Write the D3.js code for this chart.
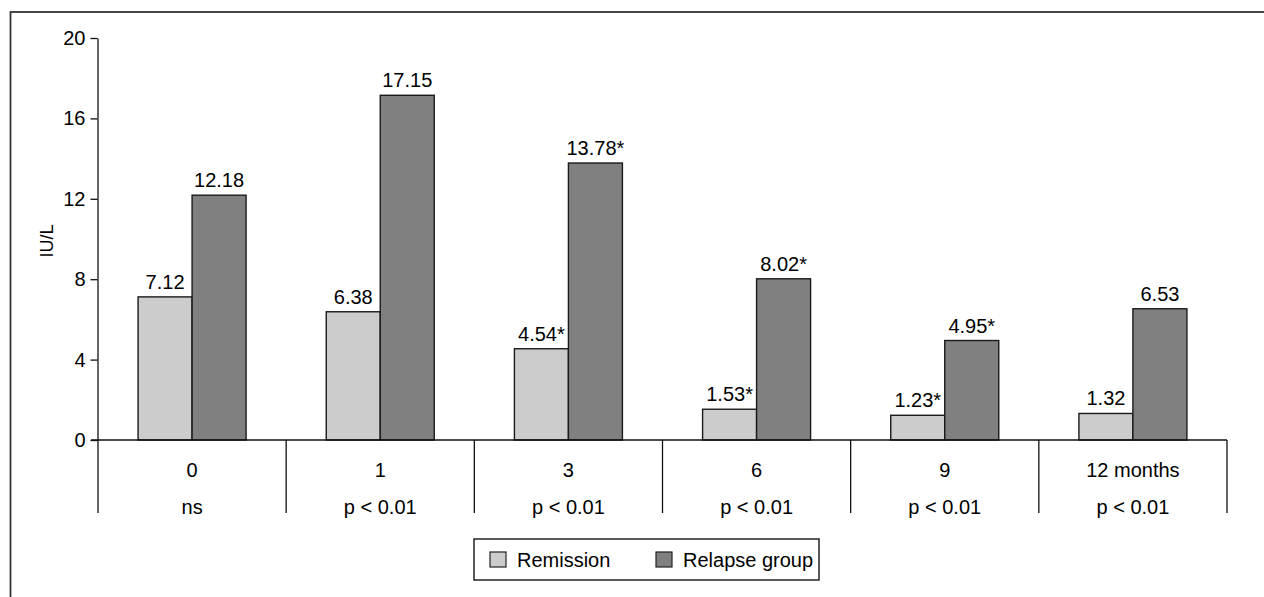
<!DOCTYPE html>
<html>
<head>
<meta charset="utf-8">
<script src="https://cdn.jsdelivr.net/npm/d3@7"></script>
<style>
  body { margin: 0; background: #fff; }
  svg text { font-family: "Liberation Sans", Arial, sans-serif; fill: #000; }
</style>
</head>
<body>
<div id="wrapper"></div>
<script>
// data
const months = ["0", "1", "3", "6", "9", "12 months"]
const pValues = ["ns", "p < 0.01", "p < 0.01", "p < 0.01", "p < 0.01", "p < 0.01"]
const remission = [7.12, 6.38, 4.54, 1.53, 1.23, 1.32]
const relapse = [12.18, 17.15, 13.78, 8.02, 4.95, 6.53]
const remissionStar = [false, false, true, true, true, false]
const relapseStar = [false, false, true, true, true, false]
const series = ["Remission", "Relapse group"]
const yTicks = [0, 4, 8, 12, 16, 20]

function drawBars() {
  const colors = { "Remission": "#cccccc", "Relapse group": "#808080" }
  const fontFamily = '"Liberation Sans", Arial, sans-serif'

  const data = months.map((m, i) => ({
    month: m,
    p: pValues[i],
    values: [
      { key: "Remission", value: remission[i], star: remissionStar[i] },
      { key: "Relapse group", value: relapse[i], star: relapseStar[i] },
    ]
  }))

  const dimensions = {
    width: 1264,
    height: 597,
    left: 98,
    right: 1227,
    top: 38,
    zero: 440,
    bottom: 513,
  }

  const svg = d3.select("#wrapper")
    .append("svg")
    .attr("width", dimensions.width)
    .attr("height", dimensions.height)

  // outer frame (runs off right and bottom edge)
  svg.append("rect")
    .attr("x", 10.5)
    .attr("y", 12)
    .attr("width", 1300)
    .attr("height", 700)
    .attr("fill", "none")
    .attr("stroke", "#333")
    .attr("stroke-width", 1.8)

  // scales
  const xScale = d3.scaleBand()
    .domain(months)
    .range([dimensions.left, dimensions.right])
  const innerScale = d3.scaleBand()
    .domain(series)
    .range([0, 108])
  const yScale = d3.scaleLinear()
    .domain([0, 20])
    .range([dimensions.zero, dimensions.top])

  // y axis
  const yAxis = d3.axisLeft(yScale)
    .tickValues(yTicks)
    .tickSize(7)
    .tickSizeOuter(0)
    .tickPadding(5)
  const yAxisG = svg.append("g")
    .attr("transform", `translate(${dimensions.left - 0.5},0)`)
    .call(yAxis)
  yAxisG.select(".domain").attr("stroke", "#111").attr("stroke-width", 1.3)
  yAxisG.selectAll(".tick line").attr("stroke", "#111").attr("stroke-width", 1.3)
  yAxisG.selectAll(".tick text")
    .attr("font-size", 20)
    .style("font-family", fontFamily)
    .attr("fill", "#000")

  svg.append("text")
    .attr("transform", `translate(53,241) rotate(-90)`)
    .attr("text-anchor", "middle")
    .attr("font-size", 18)
    .text("IU/L")

  // bars
  const groups = svg.selectAll("g.group")
    .data(data)
    .join("g")
    .attr("class", "group")
    .attr("transform", d => `translate(${xScale(d.month) + (xScale.bandwidth() - 108) / 2},0)`)

  groups.selectAll("rect")
    .data(d => d.values)
    .join("rect")
    .attr("x", d => innerScale(d.key))
    .attr("y", d => yScale(d.value))
    .attr("width", innerScale.bandwidth())
    .attr("height", d => yScale(0) - yScale(d.value))
    .attr("fill", d => colors[d.key])
    .attr("stroke", "#1a1a1a")
    .attr("stroke-width", 1.4)

  groups.selectAll("text.value")
    .data(d => d.values)
    .join("text")
    .attr("class", "value")
    .attr("x", d => innerScale(d.key) + innerScale.bandwidth() / 2)
    .attr("y", d => yScale(d.value) - 8)
    .attr("text-anchor", "middle")
    .attr("font-size", 20)
    .text(d => d.value.toFixed(2) + (d.star ? "*" : ""))

  // x axis line and category table
  svg.append("line")
    .attr("x1", dimensions.left - 7)
    .attr("x2", dimensions.right)
    .attr("y1", dimensions.zero)
    .attr("y2", dimensions.zero)
    .attr("stroke", "#111")
    .attr("stroke-width", 1.3)

  const bounds = [months[0]].concat(months).map((m, i) =>
    i === 0 ? xScale(m) : xScale(m) + xScale.bandwidth())
  svg.selectAll("line.sep")
    .data(bounds)
    .join("line")
    .attr("class", "sep")
    .attr("x1", d => d)
    .attr("x2", d => d)
    .attr("y1", dimensions.zero)
    .attr("y2", dimensions.bottom)
    .attr("stroke", "#111")
    .attr("stroke-width", 1.3)

  svg.selectAll("text.month")
    .data(data)
    .join("text")
    .attr("class", "month")
    .attr("x", d => xScale(d.month) + xScale.bandwidth() / 2)
    .attr("y", 477)
    .attr("text-anchor", "middle")
    .attr("font-size", 20)
    .text(d => d.month)

  svg.selectAll("text.pval")
    .data(data)
    .join("text")
    .attr("class", "pval")
    .attr("x", d => xScale(d.month) + xScale.bandwidth() / 2)
    .attr("y", 514)
    .attr("text-anchor", "middle")
    .attr("font-size", 20)
    .text(d => d.p)

  // legend
  const legend = svg.append("g")
  legend.append("rect")
    .attr("x", 474)
    .attr("y", 539)
    .attr("width", 345)
    .attr("height", 41)
    .attr("fill", "#fff")
    .attr("stroke", "#222")
    .attr("stroke-width", 1.5)

  const legendX = [490, 656]
  const items = legend.selectAll("g.item")
    .data(series)
    .join("g")
    .attr("class", "item")
    .attr("transform", (d, i) => `translate(${legendX[i]},552)`)
  items.append("rect")
    .attr("width", 16)
    .attr("height", 15)
    .attr("fill", d => colors[d])
    .attr("stroke", "#222")
    .attr("stroke-width", 1.2)
  items.append("text")
    .attr("x", 27)
    .attr("y", 15)
    .attr("font-size", 20)
    .text(d => d)
}

drawBars()
</script>
</body>
</html>
